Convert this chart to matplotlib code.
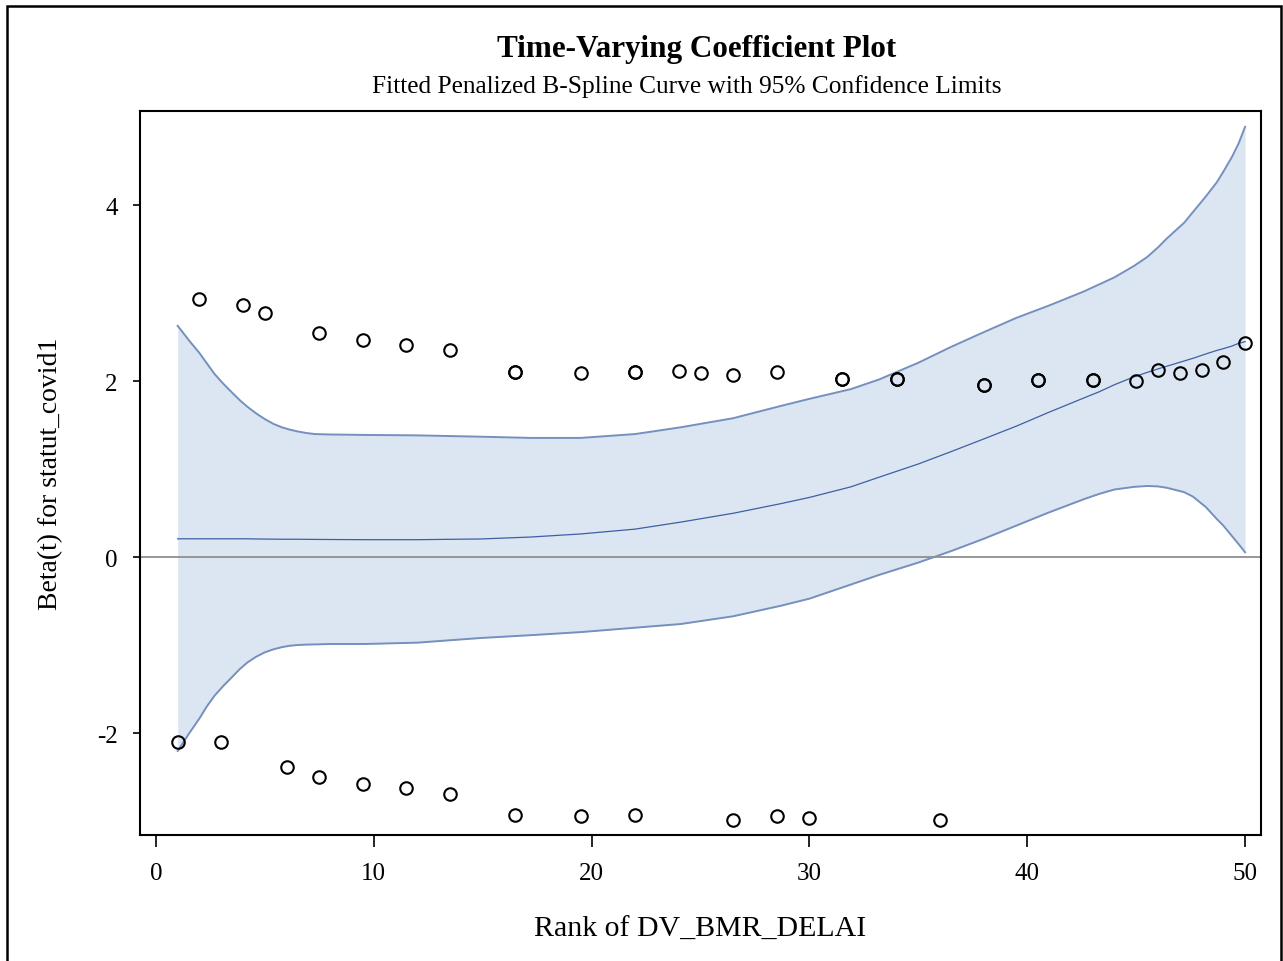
import matplotlib
matplotlib.use("Agg")
import matplotlib.pyplot as plt
from matplotlib.patches import Rectangle

plt.rcParams['font.family'] = ['Liberation Serif', 'DejaVu Serif']
plt.rcParams['axes.unicode_minus'] = False

# fitted curve + 95% limits
grid_x = [1.0, 1.5, 2.0, 2.35, 2.7, 3.1, 3.5, 3.85, 4.2, 4.6, 5.0, 5.4, 5.8, 6.15, 6.5,
          6.9, 7.3, 8.0, 9.6, 12.0, 14.9, 17.2,
          19.5, 22.0, 24.1, 26.5, 28.7, 30.0, 31.9, 33.2, 35.0, 36.5, 38.0, 39.5,
          41.0, 42.6, 43.3, 44.0, 44.9, 45.5, 46.0, 46.4, 47.2, 47.6, 48.2, 48.7, 49.0,
          49.4, 49.7, 50.0]
upper_cl = [2.63, 2.47, 2.32, 2.20, 2.08, 1.97, 1.87, 1.785, 1.71, 1.635, 1.57, 1.515,
            1.475, 1.45, 1.43, 1.412, 1.40, 1.395, 1.39,
            1.385, 1.37, 1.356, 1.356, 1.40, 1.477, 1.58, 1.72, 1.80, 1.91, 2.02, 2.21,
            2.39, 2.557, 2.72, 2.86, 3.02, 3.10, 3.18, 3.31, 3.41, 3.52, 3.62, 3.80, 3.92,
            4.10, 4.26, 4.38, 4.55, 4.70, 4.89]
beta_t = [0.21, 0.21, 0.21, 0.21, 0.21, 0.21, 0.21, 0.21, 0.21, 0.208, 0.207, 0.206,
          0.205, 0.205, 0.205, 0.204, 0.203, 0.202, 0.20,
          0.20, 0.208, 0.23, 0.265, 0.32, 0.40, 0.50, 0.61, 0.68, 0.80, 0.91, 1.06, 1.20,
          1.344, 1.49, 1.648, 1.81, 1.88, 1.96, 2.05, 2.10, 2.14, 2.17, 2.23, 2.26, 2.31,
          2.35, 2.37, 2.40, 2.43, 2.45]
lower_cl = [-2.20, -2.01, -1.83, -1.69, -1.57, -1.46, -1.36, -1.27, -1.195, -1.13, -1.08,
            -1.045, -1.02, -1.005, -0.997, -0.992, -0.99,
            -0.985, -0.985, -0.97, -0.917, -0.885, -0.85, -0.80, -0.758, -0.67, -0.55,
            -0.47, -0.31, -0.20, -0.06, 0.07, 0.21, 0.36, 0.51, 0.66, 0.72, 0.77, 0.80,
            0.81, 0.805, 0.79, 0.74, 0.69, 0.57, 0.435, 0.36, 0.24, 0.15, 0.057]

# residual points (ties appear twice)
pts_x = [2, 4, 5, 7.5, 9.5, 11.5, 13.5, 16.5, 16.5, 19.5, 22, 22, 24, 25, 26.5, 28.5,
         31.5, 31.5, 34, 34, 38, 38, 40.5, 40.5, 43, 43, 45, 46, 47, 48, 49, 50,
         1, 3, 6, 7.5, 9.5, 11.5, 13.5, 16.5, 19.5, 22, 26.5, 28.5, 30, 36]
pts_y = [2.93, 2.87, 2.78, 2.545, 2.47, 2.415, 2.35, 2.105, 2.105, 2.098, 2.10, 2.10,
         2.12, 2.09, 2.07, 2.10, 2.026, 2.026, 2.03, 2.03, 1.96, 1.96, 2.015, 2.015,
         2.015, 2.015, 2.003, 2.128, 2.09, 2.13, 2.22, 2.44,
         -2.10, -2.10, -2.38, -2.50, -2.57, -2.625, -2.69, -2.93, -2.94, -2.93, -2.98,
         -2.94, -2.96, -2.98]

fig = plt.figure(figsize=(12.83, 9.62), dpi=100)
ax = fig.add_axes([140/1283, 126/962, 1121/1283, 724/962])

ax.fill_between(grid_x, lower_cl, upper_cl, color='#dce6f2', lw=0, zorder=1)
ax.plot(grid_x, upper_cl, color='#7590bf', lw=1.4, zorder=2)
ax.plot(grid_x, lower_cl, color='#7590bf', lw=1.4, zorder=2)
ax.plot(grid_x, beta_t, color='#3e5fa3', lw=0.9, zorder=3)
ax.axhline(0, color='#8f8f8f', lw=1.3, zorder=2)
ax.plot(pts_x, pts_y, ls='none', marker='o', ms=9, mfc='none', mec='black',
        mew=1.5, zorder=4)

ax.set_xlim(-0.73, 50.73)
ax.set_ylim(-3.155, 5.07)
ax.set_xticks([0, 10, 20, 30, 40, 50])
ax.set_yticks([-2, 0, 2, 4])
ax.tick_params(axis='x', length=8.6, width=1.2, pad=11, labelsize=18)
ax.tick_params(axis='y', length=5, width=1.2, pad=11, labelsize=18)
for s in ax.spines.values():
    s.set_linewidth(1.5)

ax.set_xlabel('Rank of DV_BMR_DELAI', fontsize=21.5)
ax.set_ylabel('Beta(t) for statut_covid1', fontsize=20)
ax.xaxis.set_label_coords(0.5, -0.111)
ax.yaxis.set_label_coords(-0.0685, 0.5)

fig.text(0.543, 0.949, 'Time-Varying Coefficient Plot', ha='center', va='center',
         fontsize=22.4, fontweight='bold')
fig.text(0.535, 0.910, 'Fitted Penalized B-Spline Curve with 95% Confidence Limits',
         ha='center', va='center', fontsize=18.3)

fig.patches.append(Rectangle((7/1283, -0.02), 1274/1283, 1 - 7/962 + 0.02,
                             transform=fig.transFigure, fill=False, ec='black', lw=1.8))

fig.savefig('out.png', dpi=100)
